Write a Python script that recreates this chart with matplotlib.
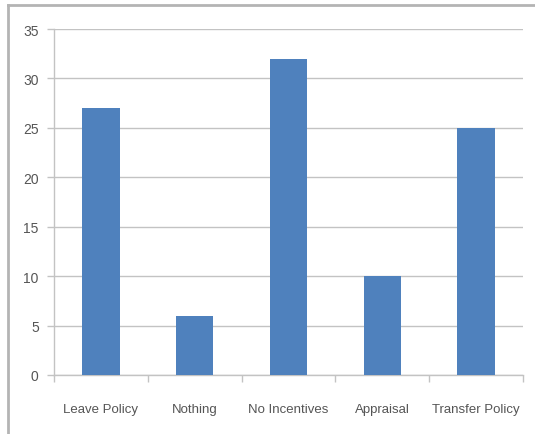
import matplotlib
matplotlib.use("Agg")
import matplotlib.pyplot as plt
from matplotlib.lines import Line2D
import numpy as np

categories = ["Leave Policy", "Nothing", "No Incentives", "Appraisal", "Transfer Policy"]
values = [27, 6, 32, 10, 25]
y_ticks = [0, 5, 10, 15, 20, 25, 30, 35]

bar_color = "#4f81bd"
grid_color = "#c3c3c3"
text_color = "#555555"

plt.rcParams["font.family"] = ["Liberation Sans", "DejaVu Sans"]

W, H = 535, 435
fig = plt.figure(figsize=(W / 100, H / 100), dpi=100)
ax = fig.add_axes([54 / W, (H - 376) / H, (523 - 54) / W, (376 - 30) / H])

x = np.arange(len(categories))
ax.bar(x, values, width=0.4, color=bar_color, zorder=3)

ax.set_xlim(-0.5, len(categories) - 0.5)
ax.set_ylim(0, 35)
ax.set_yticks(y_ticks)
ax.set_yticklabels([str(v) for v in y_ticks])

ax.set_xticks(x)
ax.set_xticklabels(categories)
ax.set_xticks(np.arange(len(categories) + 1) - 0.5, minor=True)
ax.tick_params(axis="x", which="major", length=0, pad=20, labelsize=9.5, colors=text_color)
ax.tick_params(axis="x", which="minor", length=5, width=1, color=grid_color)
ax.tick_params(axis="y", length=5, width=1, color=grid_color, pad=6, labelsize=10, labelcolor=text_color)

ax.yaxis.grid(True, color=grid_color, linewidth=1)
ax.set_axisbelow(True)
for side in ("top", "right"):
    ax.spines[side].set_visible(False)
for side in ("left", "bottom"):
    ax.spines[side].set_color(grid_color)
    ax.spines[side].set_linewidth(1)

# outer chart frame (top and left edges)
fx0, fy0 = 8 / W, 1 - 6 / H
fig.add_artist(Line2D([fx0, 1.0], [fy0, fy0], transform=fig.transFigure, color="#b4b4b4", linewidth=2))
fig.add_artist(Line2D([fx0, fx0], [0.0, fy0], transform=fig.transFigure, color="#b4b4b4", linewidth=2))

fig.savefig("out.png", dpi=100)
